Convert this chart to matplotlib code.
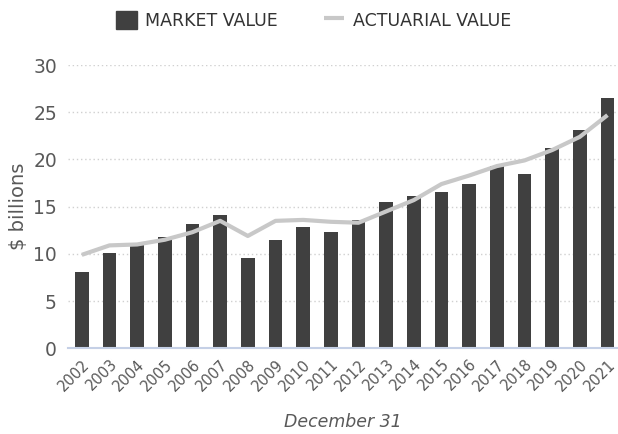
import matplotlib
matplotlib.use("Agg")
import matplotlib.pyplot as plt
from matplotlib.patches import Patch
from matplotlib.lines import Line2D

years = [str(y) for y in range(2002, 2022)]
market_value = [8.1, 10.1, 11.0, 11.8, 13.2, 14.1, 9.6, 11.5, 12.8, 12.3,
                13.6, 15.5, 16.1, 16.6, 17.4, 19.3, 18.5, 21.2, 23.1, 26.5]
actuarial_value = [9.9, 10.9, 11.0, 11.5, 12.3, 13.5, 11.9, 13.5, 13.6, 13.4,
                   13.3, 14.5, 15.7, 17.4, 18.3, 19.3, 19.9, 21.0, 22.4, 24.7]
yticks = [0, 5, 10, 15, 20, 25, 30]

BAR = "#404040"
LINE = "#c8c8c8"
TEXT = "#595959"

plt.rcParams["font.family"] = "DejaVu Sans"

fig = plt.figure(figsize=(6.18, 4.34), dpi=100)
ax = fig.add_axes([68 / 618, 0.1975, 1 - 68 / 618, 0.6525])

x = list(range(len(years)))
ax.bar(x, market_value, width=0.5, color=BAR, zorder=2)
ax.plot(x, actuarial_value, color=LINE, linewidth=3, solid_capstyle="butt", zorder=3)

ax.set_xlim(-0.5, 19.38)
ax.set_ylim(0, 30)
ax.set_yticks(yticks)
ax.set_yticklabels([str(v) for v in yticks], fontsize=13.5, color=TEXT)
ax.set_xticks(x)
ax.set_xticklabels(years, rotation=45, ha="right", rotation_mode="anchor",
                   fontsize=10.5, color=TEXT)
ax.tick_params(axis="both", length=0)
ax.tick_params(axis="y", pad=8)
ax.tick_params(axis="x", pad=6)

ax.yaxis.grid(True, linestyle=(0, (1, 2)), color="#d0d0d0", linewidth=1, zorder=0)
for s in ["top", "right", "left"]:
    ax.spines[s].set_visible(False)
ax.spines["bottom"].set_color("#c5d0e6")
ax.spines["bottom"].set_linewidth(1.5)
ax.spines["bottom"].set_zorder(4)

ax.set_ylabel("$ billions", fontsize=14, color=TEXT, labelpad=4)
ax.set_xlabel("December 31", fontsize=12.5, color=TEXT, style="italic", labelpad=14)

handles = [Patch(facecolor=BAR, edgecolor=BAR),
           Line2D([0], [0], color=LINE, marker="_", markersize=15,
                  markeredgewidth=3, linestyle="none")]
fig.legend(handles, ["MARKET VALUE", "ACTUARIAL VALUE"], loc="center",
           bbox_to_anchor=(0.507, 0.953), ncol=2, frameon=False, fontsize=12.5,
           handlelength=1.2, handleheight=1.2, columnspacing=2.6,
           handletextpad=0.5, labelcolor="#333333")

fig.savefig("out.png", dpi=100)
